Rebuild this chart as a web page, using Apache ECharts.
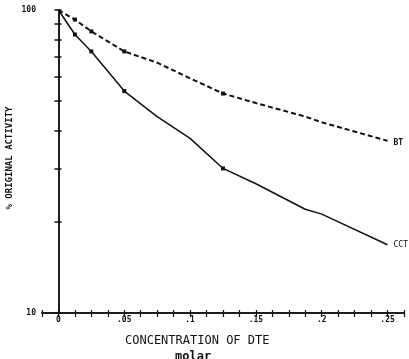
<!DOCTYPE html>
<html><head><meta charset="utf-8">
<script src="https://cdn.jsdelivr.net/npm/echarts@6/dist/echarts.min.js"></script>
<style>html,body{margin:0;padding:0;background:#fff}#c{width:409px;height:359px}</style>
</head><body><div id="c"></div>
<script>
// Concentration of DTE (molar)
const concentration = [0, 0.0125, 0.025, 0.05, 0.075, 0.1, 0.125, 0.15, 0.1875, 0.2, 0.25];
// % original activity, dashed curve (BT)
const btActivity =  [100, 93, 85, 73, 67, 59.5, 53, 49.3, 44.5, 42.6, 37];
// % original activity, solid curve (CCT)
const cctActivity = [100, 83, 73, 54, 44.5, 37.7, 30, 26.7, 22, 21.2, 16.8];
const measuredX = [0.0125, 0.025, 0.05, 0.125];
const xTickLabels = {"0": "0", "0.05": ".05", "0.1": ".1", "0.15": ".15", "0.2": ".2", "0.25": ".25"};
const yTickValues = [10, 20, 30, 40, 50, 60, 70, 80, 90, 100];
const yLabelValues = [10, 100];

const ink = '#111';
const font = 'DejaVu Sans Mono';
function pairs(ys){ return concentration.map((x,i)=>[x, ys[i]]); }
function xLabel(v){
  const k = Math.round(v*80);
  if (k % 4 !== 0) return '';
  const key = String(Math.round(v*100)/100);
  return xTickLabels[key] !== undefined ? xTickLabels[key] : '';
}
function sym(val){ return measuredX.some(m => Math.abs(m - val[0]) < 1e-6) ? 4 : 0; }

const xBase = {type:'value', min:-0.0125, max:0.2625, interval:0.0125,
  axisLine:{show:true, onZero:false, lineStyle:{color:ink, width:1.5}},
  splitLine:{show:false}};
const yBase = {type:'log', logBase:10, min:10, max:100,
  axisLine:{show:true, lineStyle:{color:ink, width:1.5}},
  splitLine:{show:false}, minorTick:{show:false}};

const chart = echarts.init(document.getElementById('c'), null, {renderer:'canvas'});
chart.setOption({
  animation:false,
  backgroundColor:'#fff',
  grid:{left:42, right:5, top:10, bottom:46},
  xAxis:[
    Object.assign({}, xBase, {axisTick:{show:true, length:4, lineStyle:{color:ink, width:1.2}},
      axisLabel:{show:true, formatter:xLabel, fontFamily:font, fontWeight:'bold', fontSize:8, color:ink, margin:3}}),
    Object.assign({}, xBase, {position:'bottom', axisTick:{show:true, inside:true, length:3, lineStyle:{color:ink, width:1.2}},
      axisLabel:{show:false}})
  ],
  yAxis:[
    Object.assign({}, yBase, {axisTick:{show:true, length:4, customValues:yTickValues, lineStyle:{color:ink, width:1.5}},
      axisLabel:{show:true, customValues:yLabelValues, fontFamily:font, fontWeight:'bold', fontSize:8, color:ink, margin:6}}),
    Object.assign({}, yBase, {position:'left', axisTick:{show:true, inside:true, length:3, customValues:yTickValues, lineStyle:{color:ink, width:1.5}},
      axisLabel:{show:false}})
  ],
  series:[
    {name:'BT', type:'line', data:pairs(btActivity), symbol:'rect', symbolSize:sym,
     itemStyle:{color:ink}, lineStyle:{color:ink, width:2, type:[5,3]},
     endLabel:{show:true, formatter:'BT', fontFamily:font, fontWeight:'bold', fontSize:8, color:ink, offset:[-2,2]}},
    {name:'CCT', type:'line', data:pairs(cctActivity), symbol:'rect', symbolSize:sym,
     itemStyle:{color:ink}, lineStyle:{color:ink, width:1.5},
     endLabel:{show:true, formatter:'CCT', fontFamily:font, fontSize:8, color:ink, offset:[-2,0]}}
  ],
  graphic:[
    {type:'text', left:125, top:335, style:{text:'CONCENTRATION OF DTE', font:'12px "DejaVu Sans Mono"', fill:ink}},
    {type:'text', left:175, top:351, style:{text:'molar', font:'bold 12px "DejaVu Sans Mono"', fill:ink}},
    {type:'text', x:10, y:158, rotation:Math.PI/2, style:{text:'% ORIGINAL ACTIVITY', font:'bold 9px "DejaVu Sans Mono"', fill:ink, align:'center', verticalAlign:'middle'}}
  ]
});
</script></body></html>
